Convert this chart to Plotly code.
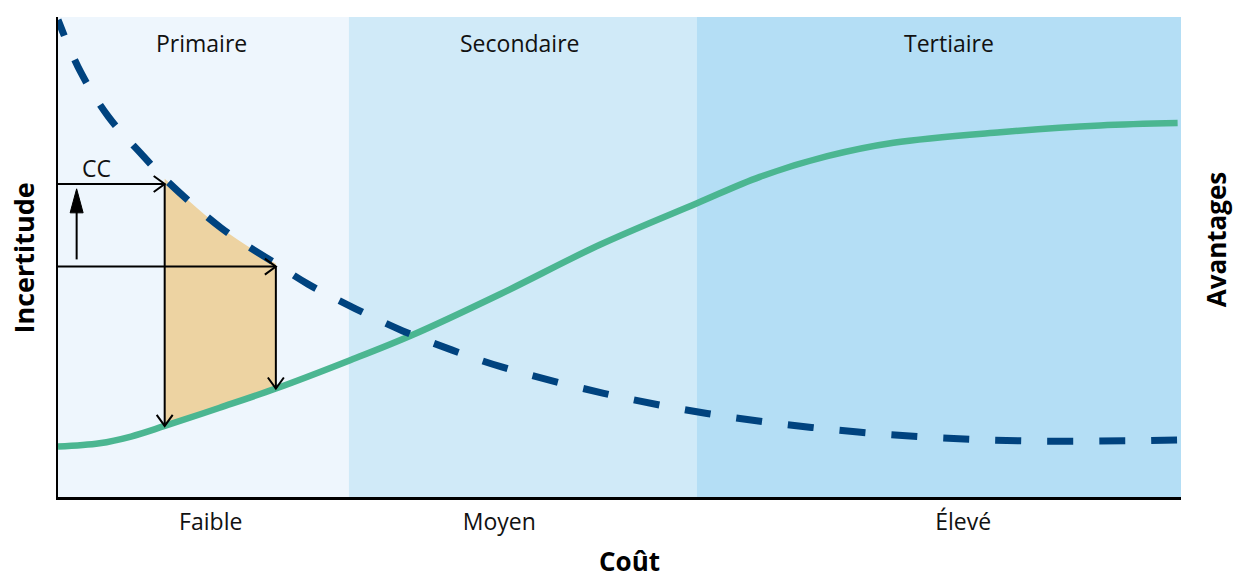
import plotly.graph_objects as go

# ---------------- data ----------------
cost_uncert = [0, 2.0, 4.5, 7.6, 9.5, 14.5, 19.4, 22.3, 26.5, 30.7, 35.1, 39.5, 48.6, 57.8, 67.1, 76.5, 85.8, 95.2, 100]
incertitude = [99.4, 88.6, 79.2, 71.0, 66.3, 56.1, 48.6, 44.3, 39.2, 34.6, 30.6, 27.1, 21.6, 17.4, 14.5, 12.6, 11.7, 11.7, 11.9]

cost_benefit = [0, 3.7, 6.5, 9.5, 14.4, 19.4, 25.9, 31.5, 39.4, 48.3, 56.9, 62.5, 68.5, 74.4, 83.9, 92.8, 99.7]
avantages = [10.5, 11.2, 12.6, 14.8, 18.6, 22.6, 28.4, 33.7, 42.3, 52.6, 61.2, 66.7, 71.0, 73.8, 76.0, 77.4, 77.9]

band_names = ["Primaire", "Secondaire", "Tertiaire"]
band_edges = [0, 25.9, 56.9, 100]
band_label_x = [12.8, 41.1, 79.3]

cost_tick_vals = [13.6, 39.3, 80.6]
cost_tick_text = ["Faible", "Moyen", "Élevé"]

cc_cost = [9.5, 19.4]        # costs where the CC arrows meet the curves
cc_level = [65.2, 48.0]      # uncertainty levels of the two CC arrows
cc_label = "CC"

# ---------------- styles ----------------
band_colors = ["#EEF6FD", "#D0EAF8", "#B4DEF5"]
green = "#4BB691"
blue = "#00437F"
fill_col = "#EDD3A2"
FONT = "Open Sans"
arrow_x = 1.66

ben_at = [avantages[cost_benefit.index(c)] for c in cc_cost]

fig = go.Figure()

# shaded CC region between the two curves
seg_b = [i for i, c in enumerate(cost_benefit) if cc_cost[0] <= c <= cc_cost[1]]
seg_u = [i for i, c in enumerate(cost_uncert) if cc_cost[0] <= c <= cc_cost[1]]
fig.add_trace(go.Scatter(x=[cost_benefit[i] for i in seg_b], y=[avantages[i] for i in seg_b],
                         mode="lines", line=dict(width=0, color="rgba(0,0,0,0)", shape="spline"),
                         showlegend=False, hoverinfo="skip"))
fig.add_trace(go.Scatter(x=[cost_uncert[i] for i in seg_u], y=[incertitude[i] for i in seg_u],
                         mode="lines", line=dict(width=0, color="rgba(0,0,0,0)", shape="spline"),
                         fill="tonexty", fillcolor=fill_col, showlegend=False, hoverinfo="skip"))

# curves
fig.add_trace(go.Scatter(x=cost_benefit, y=avantages, mode="lines", name="Avantages",
                         line=dict(color=green, width=6.5, shape="spline")))
dash = "17px," + ",".join(["26px"] * 60)
fig.add_trace(go.Scatter(x=cost_uncert, y=incertitude, mode="lines", name="Incertitude",
                         line=dict(color=blue, width=7, shape="spline", dash=dash)))

shapes = []
for i, name in enumerate(band_names):
    shapes.append(dict(type="rect", xref="x", yref="paper", x0=band_edges[i], x1=band_edges[i + 1],
                       y0=0, y1=1, fillcolor=band_colors[i], line=dict(width=0), layer="below"))

ln = dict(color="black", width=2)
for c, lev, b in zip(cc_cost, cc_level, ben_at):
    shapes.append(dict(type="line", xref="x", yref="y", x0=0, x1=c, y0=lev, y1=lev, line=ln, layer="above"))
    shapes.append(dict(type="line", xref="x", yref="y", x0=c, x1=c, y0=lev, y1=b, line=ln, layer="above"))
    # open chevron heads (right and down)
    shapes.append(dict(type="path", xref="x", yref="y", xsizemode="pixel", ysizemode="pixel",
                       xanchor=c, yanchor=lev, path="M-11,8 L0,0 L-11,-8", line=ln, layer="above"))
    shapes.append(dict(type="path", xref="x", yref="y", xsizemode="pixel", ysizemode="pixel",
                       xanchor=c, yanchor=b, path="M-8,11 L0,0 L8,11", line=ln, layer="above"))

# small upward arrow
tip_y = cc_level[0] - 1.0
shapes.append(dict(type="line", xref="x", yref="y", x0=arrow_x, x1=arrow_x, y0=cc_level[1] + 1.5, y1=tip_y - 3,
                   line=ln, layer="above"))
shapes.append(dict(type="path", xref="x", yref="y", xsizemode="pixel", ysizemode="pixel",
                   xanchor=arrow_x, yanchor=tip_y, path="M-6.5,-24 L6.5,-24 L0,0 Z",
                   fillcolor="black", line=dict(color="black", width=1), layer="above"))

annotations = []
for name, x in zip(band_names, band_label_x):
    annotations.append(dict(x=x, y=(497 - 43) / 4.8, xref="x", yref="y", text=name, showarrow=False,
                            xanchor="center", yanchor="middle",
                            font=dict(family=FONT, size=23, color="#111")))
annotations.append(dict(x=3.47, y=68.5, xref="x", yref="y", text=cc_label, showarrow=False,
                        xanchor="center", yanchor="middle", font=dict(family=FONT, size=23, color="#111")))
annotations.append(dict(x=0.5085, y=-0.133, xref="paper", yref="paper", text="<b>Coût</b>",
                        xanchor="center", yanchor="middle",
                        showarrow=False, font=dict(family=FONT, size=26, color="black")))
annotations.append(dict(x=-0.0307, y=0.498, xref="paper", yref="paper", text="<b>Incertitude</b>",
                        xanchor="center", yanchor="middle",
                        textangle=-90, showarrow=False, font=dict(family=FONT, size=27, color="black")))
annotations.append(dict(x=1.0312, y=0.535, xref="paper", yref="paper", text="<b>Avantages</b>",
                        xanchor="center", yanchor="middle",
                        textangle=-90, showarrow=False, font=dict(family=FONT, size=26, color="black")))

fig.update_layout(
    width=1235, height=579,
    margin=dict(l=58, r=54, t=17, b=82),
    paper_bgcolor="white", plot_bgcolor="white",
    showlegend=False, hovermode=False,
    shapes=shapes, annotations=annotations,
    xaxis=dict(range=[0, 100], showgrid=False, zeroline=False, showline=True, linecolor="black",
               linewidth=2.5, tickvals=cost_tick_vals, ticktext=cost_tick_text, ticks="outside",
               ticklen=3, tickcolor="rgba(0,0,0,0)", tickfont=dict(family=FONT, size=23, color="#111")),
    yaxis=dict(range=[0, 100], showgrid=False, zeroline=False, showline=True, linecolor="black",
               linewidth=2, showticklabels=False, ticks=""),
)

# remove the page's default 8px body margin so the figure fills the window exactly
fig.write_html("out.html", config={"displayModeBar": False},
               post_script="document.body.style.margin='0';document.body.style.overflow='hidden';")
